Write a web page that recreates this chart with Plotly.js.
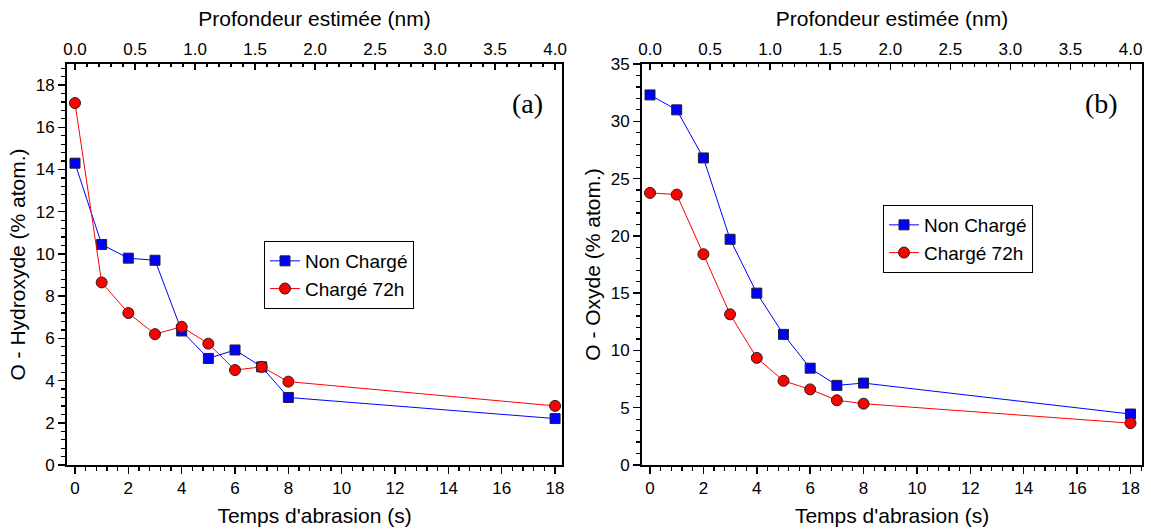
<!DOCTYPE html>
<html>
<head>
<meta charset="utf-8">
<script src="https://cdn.plot.ly/plotly-3.0.1.min.js"></script>
<style>html,body{margin:0;padding:0;background:#fff;}#chart{width:1151px;height:531px;}</style>
</head>
<body>
<div id="chart"></div>
<script>
// Abrasion time (s)
const temps = [0, 1, 2, 3, 4, 5, 6, 7, 8, 18];
// Panel (a): O - Hydroxyde (% atom.)
const hydroNonCharge = [14.3, 10.45, 9.8, 9.7, 6.35, 5.05, 5.45, 4.65, 3.2, 2.2];
const hydroCharge72h = [17.15, 8.65, 7.2, 6.2, 6.55, 5.75, 4.5, 4.65, 3.95, 2.8];
// Panel (b): O - Oxyde (% atom.)
const oxyNonCharge = [32.3, 31.0, 26.8, 19.7, 15.0, 11.4, 8.45, 6.95, 7.15, 4.45];
const oxyCharge72h = [23.75, 23.6, 18.4, 13.15, 9.35, 7.35, 6.6, 5.65, 5.35, 3.65];
const seriesNames = ["Non Chargé", "Chargé 72h"];
const panelLabels = ["(a)", "(b)"];
// top axis: estimated depth (nm), 4.0 nm corresponds to 18 s
const depthMax = 4.0, timeMax = 18;

const F = "Liberation Sans, Arial, sans-serif";
const blueTrace = (y, xa, ya, leg) => ({
  x: temps, y: y, xaxis: xa, yaxis: ya, name: seriesNames[0], legend: leg,
  mode: "lines+markers", type: "scatter",
  line: {color: "#0000ff", width: 1},
  marker: {symbol: "square", size: 10, color: "#0000ff", line: {color: "#222", width: 1}}
});
const redTrace = (y, xa, ya, leg) => ({
  x: temps, y: y, xaxis: xa, yaxis: ya, name: seriesNames[1], legend: leg,
  mode: "lines+markers", type: "scatter",
  line: {color: "#ff0000", width: 1},
  marker: {symbol: "circle", size: 11, color: "#ff0000", line: {color: "#222", width: 1}}
});
// empty carrier traces so that the top (depth) axes are drawn
const carrier = (xa, ya) => ({x: [], y: [], xaxis: xa, yaxis: ya, type: "scatter", mode: "markers", showlegend: false, hoverinfo: "skip"});

const data = [
  blueTrace(hydroNonCharge, "x", "y", "legend"),
  redTrace(hydroCharge72h, "x", "y", "legend"),
  blueTrace(oxyNonCharge, "x3", "y2", "legend2"),
  redTrace(oxyCharge72h, "x3", "y2", "legend2"),
  carrier("x2", "y"),
  carrier("x4", "y2")
];

const tickFont = {family: F, size: 17, color: "#000"};
const titleFont = {family: F, size: 21, color: "#000"};

function bottomAxis(domain, range, anchor) {
  return {
    domain: domain, range: range, anchor: anchor,
    tickmode: "linear", tick0: 0, dtick: 2,
    ticks: "outside", ticklen: 7, tickwidth: 1.5, tickcolor: "#000",
    minor: {tickmode: "linear", tick0: 0, dtick: 0.4, ticks: "outside", ticklen: 4, tickwidth: 1.2, tickcolor: "#000"},
    showline: true, linecolor: "#000", linewidth: 2, mirror: true,
    showgrid: false, zeroline: false,
    tickfont: tickFont,
    title: {text: "Temps d'abrasion (s)", font: titleFont, standoff: 11}
  };
}
function topAxis(range, overlay, anchor) {
  return {
    overlaying: overlay, side: "top", anchor: anchor, range: range,
    tickmode: "linear", tick0: 0, dtick: 0.5, tickformat: ".1f",
    ticks: "inside", ticklen: 6, tickwidth: 1.5, tickcolor: "#000",
    minor: {tickmode: "linear", tick0: 0, dtick: 0.1, ticks: "inside", ticklen: 3, tickwidth: 1.2, tickcolor: "#000"},
    showline: true, linecolor: "#000", linewidth: 2,
    showgrid: false, zeroline: false,
    tickfont: tickFont,
    title: {text: "Profondeur estimée (nm)", font: titleFont, standoff: 8}
  };
}
function leftAxis(domain, range, dtick, minor, anchor, title) {
  return {
    domain: domain, range: range, anchor: anchor,
    tickmode: "linear", tick0: 0, dtick: dtick,
    ticks: "outside", ticklen: 7, tickwidth: 1.5, tickcolor: "#000",
    minor: {tickmode: "linear", tick0: 0, dtick: minor, ticks: "outside", ticklen: 4, tickwidth: 1.2, tickcolor: "#000"},
    showline: true, linecolor: "#000", linewidth: 2, mirror: true,
    showgrid: false, zeroline: false,
    tickfont: tickFont,
    title: {text: title, font: titleFont, standoff: 4}
  };
}

const yDom = [1 - 465/531, 1 - 64/531];
const xDomA = [67/1151, 562/1151];
const xDomB = [642/1151, 1142/1151];
const xRangeA = [-0.3, 18.26];
const xRangeB = [-0.3, 18.43];
const toDepth = r => r.map(v => v * depthMax / timeMax);

const legendStyle = {
  xanchor: "left", yanchor: "top",
  bgcolor: "#fff", bordercolor: "#000", borderwidth: 1,
  font: {family: F, size: 19, color: "#000"},
  tracegroupgap: 0
};

const layout = {
  width: 1151, height: 531,
  margin: {l: 0, r: 0, t: 0, b: 0},
  paper_bgcolor: "#fff", plot_bgcolor: "#fff",
  font: {family: F, color: "#000"},
  xaxis: bottomAxis(xDomA, xRangeA, "y"),
  xaxis2: topAxis(toDepth(xRangeA), "x", "y"),
  yaxis: leftAxis(yDom, [0, 19], 2, 0.4, "x", "O - Hydroxyde (% atom.)"),
  xaxis3: bottomAxis(xDomB, xRangeB, "y2"),
  xaxis4: topAxis(toDepth(xRangeB), "x3", "y2"),
  yaxis2: leftAxis(yDom, [0, 35], 5, 1, "x3", "O - Oxyde (% atom.)"),
  legend: Object.assign({x: 264/1151, y: 1 - 241/531}, legendStyle),
  legend2: Object.assign({x: 883/1151, y: 1 - 205/531}, legendStyle),
  annotations: [
    {text: panelLabels[0], xref: "paper", yref: "paper", x: 527/1151, y: 1 - 103/531,
     xanchor: "center", yanchor: "middle",
     showarrow: false, font: {family: "Liberation Serif, serif", size: 28, color: "#000"}},
    {text: panelLabels[1], xref: "paper", yref: "paper", x: 1101/1151, y: 1 - 103/531,
     xanchor: "center", yanchor: "middle",
     showarrow: false, font: {family: "Liberation Serif, serif", size: 28, color: "#000"}}
  ]
};

Plotly.newPlot("chart", data, layout, {displayModeBar: false, staticPlot: true});
</script>
</body>
</html>
